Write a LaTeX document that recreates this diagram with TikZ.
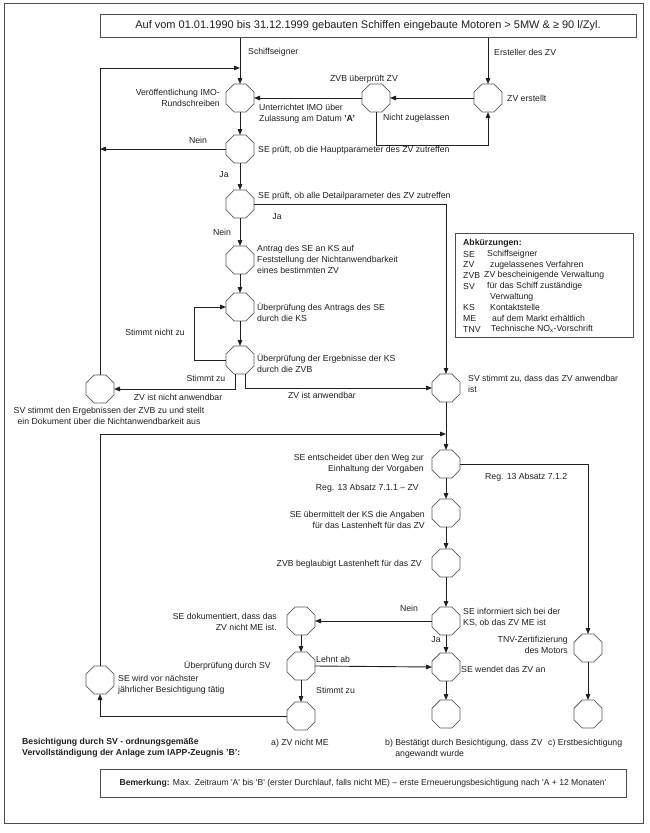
\documentclass[tikz,border=0pt]{standalone}
\usepackage{fontspec}
\setmainfont{Liberation Sans}
\usetikzlibrary{shapes.geometric,arrows.meta}
\begin{document}
\begin{tikzpicture}[x=1pt,y=-1pt,
  oct/.style={draw=black!65, line width=0.75pt, regular polygon, regular polygon sides=8,
              minimum size=30.3pt, inner sep=0pt, outer sep=0pt},
  arr/.style={draw=black!88, line width=0.9pt, -{Triangle[length=6pt,width=4.6pt]}},
  ln/.style={draw=black!88, line width=0.9pt},
  txt/.style={inner sep=0pt, font=\fontsize{8.7}{11}\selectfont, text=black!88},
  frame/.style={draw=black!70, line width=1pt}]
\useasboundingbox (0,0) rectangle (649,833);
\draw[frame] (4,3) rectangle (643,823);

% title
\node[frame, minimum width=536pt, minimum height=23pt, inner sep=0pt,
      font=\fontsize{11}{12}\selectfont, text=black!88] (title) at (368,25.5)
  {Auf vom 01.01.1990 bis 31.12.1999 gebauten Schiffen eingebaute Motoren > 5MW \& ≥ 90 l/Zyl.};

% octagons
\node[oct] (n1) at (240,98) {};
\node[oct] (zvb) at (376,98) {};
\node[oct] (zve) at (488,98) {};
\node[oct] (n2) at (240,149) {};
\node[oct] (n3) at (240,204) {};
\node[oct] (n4) at (240,260) {};
\node[oct] (n5) at (240,307) {};
\node[oct] (n6) at (240,360) {};
\node[oct] (sv1) at (100,389) {};
\node[oct] (nsv) at (446,388) {};
\node[oct] (nent) at (446,464) {};
\node[oct] (nue) at (446,513) {};
\node[oct] (nbe) at (446,563) {};
\node[oct] (ninf) at (446,621) {};
\node[oct] (ndok) at (301,621) {};
\node[oct] (npr) at (301,666) {};
\node[oct] (nanw) at (446,667) {};
\node[oct] (na) at (301,716) {};
\node[oct] (nb) at (446,714) {};
\node[oct] (ntnv) at (588,648) {};
\node[oct] (nc) at (588,714) {};
\node[oct] (ne) at (100,680) {};

% helper coordinates
\coordinate (topL) at (100,68);
\coordinate (midL) at (100,434);
\coordinate (loopx) at (194,0);

% connectors
\draw[arr] (n1 |- title.south) -- (n1.north);
\draw[arr] (zve |- title.south) -- (zve.north);
\draw[arr] (zve.west) -- (zvb.east);
\draw[arr] (zvb.west) -- (n1.east);
\draw[arr] (zvb.south) -- ++(0,33) -| (zve.south);
\draw[arr] (sv1.north) -- (topL) -- (topL -| n1);
\draw[arr] (n1.south) -- (n2.north);
\draw[arr] (n2.west) -- (n2.west -| sv1);
\draw[arr] (n2.south) -- (n3.north);
\draw[arr] (n3.east) -| (nsv.north);
\draw[arr] (n3.south) -- (n4.north);
\draw[arr] (n4.south) -- (n5.north);
\draw[arr] (n5.south) -- (n6.north);
\draw[arr] (n6.west) -- (n6.west -| loopx) |- (n5.west);
\draw[arr] ([xshift=-5pt]n6.south) |- (sv1.east);
\draw[arr] ([xshift=5pt]n6.south) |- (nsv.west);
\draw[arr] (nsv.south) -- (nent.north);
\draw[arr] (ne.north) -- (midL) -- (midL -| nent);
\draw[arr] (nent.east) -| (ntnv.north);
\draw[arr] (nent.south) -- (nue.north);
\draw[arr] (nue.south) -- (nbe.north);
\draw[arr] (nbe.south) -- (ninf.north);
\draw[arr] (ninf.west) -- (ndok.east);
\draw[arr] (ninf.south) -- (nanw.north);
\draw[arr] (ndok.south) -- (npr.north);
\draw[arr] (npr.east) -- (nanw.west);
\draw[arr] (npr.south) -- (na.north);
\draw[arr] (na.west) -| (ne.south);
\draw[arr] (nanw.south) -- (nb.north);
\draw[arr] (ntnv.south) -- (nc.north);

% labels
\node[txt, anchor=west] (t1) at (248,52) {Schiffseigner};
\node[txt, anchor=west] (t2) at (494,52) {Ersteller des ZV};
\node[txt] (t3) at (364,79) {ZVB überprüft ZV};
\node[txt, anchor=east, align=right] (t4) at (220,98) {Veröffentlichung IMO-\\Rundschreiben};
\node[txt, anchor=west, align=left] (t5) at (259,114) {Unterrichtet IMO über\\Zulassung am Datum \textbf{'A'}};
\node[txt, anchor=west] (t6) at (507,98) {ZV erstellt};
\node[txt, anchor=west] (t7) at (383,118) {Nicht zugelassen};
\node[txt] (t8) at (198,140) {Nein};
\node[txt, anchor=west] (t9) at (258,150) {SE prüft, ob die Hauptparameter des ZV zutreffen};
\node[txt] (t10) at (224,175) {Ja};
\node[txt, anchor=west] (t11) at (258,196) {SE prüft, ob alle Detailparameter des ZV zutreffen};
\node[txt] (t12) at (277,217) {Ja};
\node[txt] (t13) at (222,232) {Nein};
\node[txt, anchor=west, align=left] (t14) at (257,259) {Antrag des SE an KS auf\\Feststellung der Nichtanwendbarkeit\\eines bestimmten ZV};
\node[txt, anchor=west, align=left] (t15) at (257,312) {Überprüfung des Antrags des SE\\durch die KS};
\node[txt] (t16) at (155,332) {Stimmt nicht zu};
\node[txt, anchor=west, align=left] (t17) at (257,363) {Überprüfung der Ergebnisse der KS\\durch die ZVB};
\node[txt] (t18) at (206,378) {Stimmt zu};
\node[txt] (t19) at (178,397) {ZV ist nicht anwendbar};
\node[txt] (t20) at (322,395) {ZV ist anwendbar};
\node[txt, align=center] (t21) at (109,416) {SV stimmt den Ergebnissen der ZVB zu und stellt\\ein Dokument über die Nichtanwendbarkeit aus};
\node[txt, anchor=west, align=left] (t22) at (468,384) {SV stimmt zu, dass das ZV anwendbar\\ist};
\node[txt, anchor=east, align=right] (t23) at (424,464) {SE entscheidet über den Weg zur\\Einhaltung der Vorgaben};
\node[txt, anchor=west] (t24) at (485,477) {Reg. 13 Absatz 7.1.2};
\node[txt, anchor=east] (t25) at (419,488) {Reg. 13 Absatz 7.1.1 – ZV};
\node[txt, anchor=east, align=right] (t26) at (425,520) {SE übermittelt der KS die Angaben\\für das Lastenheft für das ZV};
\node[txt, anchor=east] (t27) at (422,564) {ZVB beglaubigt Lastenheft für das ZV};
\node[txt] (t28) at (409,608) {Nein};
\node[txt, anchor=west, align=left] (t29) at (463,617) {SE informiert sich bei der\\KS, ob das ZV ME ist};
\node[txt, anchor=east, align=right] (t30) at (277,622) {SE dokumentiert, dass das\\ZV nicht ME ist.};
\node[txt] (t31) at (436,640) {Ja};
\node[txt, anchor=east, align=right] (t32) at (568,645) {TNV-Zertifizierung\\des Motors};
\node[txt, anchor=east] (t33) at (271,666) {Überprüfung durch SV};
\node[txt, anchor=west] (t34) at (316,659) {Lehnt ab};
\node[txt, anchor=west] (t35) at (461,669) {SE wendet das ZV an};
\node[txt, anchor=west, align=left] (t36) at (118,685) {SE wird vor nächster\\jährlicher Besichtigung tätig};
\node[txt, anchor=west] (t37) at (316,690) {Stimmt zu};
\node[txt] (t38) at (300,743) {a) ZV nicht ME};
\node[txt, anchor=west, align=left, font=\fontsize{8.7}{11}\selectfont\bfseries] (t39) at (22,748)
  {Besichtigung durch SV - ordnungsgemäße\\Vervollständigung der Anlage zum IAPP-Zeugnis 'B':};
\node[txt, anchor=west, align=left] (t40) at (385,749) {b) Bestätigt durch Besichtigung, dass ZV\\\hphantom{b)}\ angewandt wurde};
\node[txt, anchor=west] (t41) at (548,743) {c) Erstbesichtigung};

% abbreviations
\node[frame, minimum width=178pt, minimum height=104pt, inner sep=0pt] (abbr) at (544,285) {};
\node[txt, anchor=west, font=\fontsize{8.7}{11}\selectfont\bfseries] (a0) at (463,243.5) {Abkürzungen:};
\node[txt, anchor=west] (a1) at (463,254.2) {SE};
\node[txt, anchor=west] (a1b) at (487,254.2) {Schiffseigner};
\node[txt, anchor=west] (a2) at (463,264.9) {ZV};
\node[txt, anchor=west] (a2b) at (490,264.9) {zugelassenes Verfahren};
\node[txt, anchor=west] (a3) at (463,275.6) {ZVB};
\node[txt, anchor=west] (a3b) at (484,275.6) {ZV bescheinigende Verwaltung};
\node[txt, anchor=west] (a4) at (463,286.3) {SV};
\node[txt, anchor=west] (a4b) at (487,286.3) {für das Schiff zuständige};
\node[txt, anchor=west] (a4c) at (490,297) {Verwaltung};
\node[txt, anchor=west] (a5) at (463,307.7) {KS};
\node[txt, anchor=west] (a5b) at (490,307.7) {Kontaktstelle};
\node[txt, anchor=west] (a6) at (463,318.4) {ME};
\node[txt, anchor=west] (a6b) at (492,318.4) {auf dem Markt erhältlich};
\node[txt, anchor=west] (a7) at (463,329.1) {TNV};
\node[txt, anchor=west] (a7b) at (491,329.1) {Technische NO\textsubscript{x}-Vorschrift};

% remark
\node[frame, minimum width=526pt, minimum height=28pt, inner sep=0pt,
      font=\fontsize{8.6}{10}\selectfont, text=black!88] (bem) at (363,783)
  {\textbf{Bemerkung:} Max. Zeitraum \textquotesingle A\textquotesingle\ bis \textquotesingle B\textquotesingle\ (erster Durchlauf, falls nicht ME) – erste Erneuerungsbesichtigung nach \textquotesingle A + 12 Monaten\textquotesingle};
\end{tikzpicture}
\end{document}
